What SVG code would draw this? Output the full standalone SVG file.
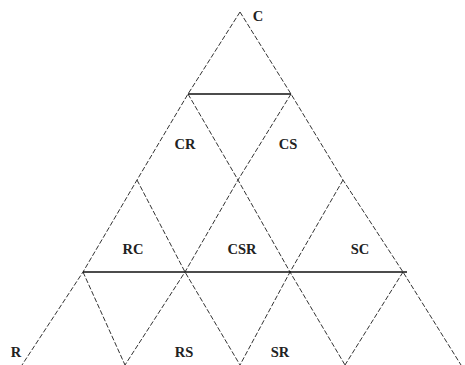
<svg xmlns="http://www.w3.org/2000/svg" width="465" height="365" viewBox="0 0 465 365">
<style>
.d{fill:none;stroke:#333;stroke-width:1;stroke-dasharray:5 2}
.h{fill:none;stroke:#111;stroke-width:1.3}
text{font-family:"Liberation Serif","Times New Roman",serif;font-weight:bold;font-size:14.5px;fill:#222;text-anchor:middle}
</style>
<rect width="465" height="365" fill="#fff"/>
<g id="connectors">
<polyline class="d" points="240,12 188,94 137,180 83,272 22,365"/>
<polyline class="d" points="240,12 291,94 343,180 403,272 461,365"/>
<polyline class="d" points="291,94 238,180 185,272 125,365"/>
<polyline class="d" points="343,180 290,272 240,365"/>
<polyline class="d" points="403,272 345,365"/>
<polyline class="d" points="188,94 238,180 290,272 345,365"/>
<polyline class="d" points="137,180 185,272 240,365"/>
<polyline class="d" points="83,272 125,365"/>
<line class="h" x1="188" y1="94" x2="291" y2="94"/>
<line class="h" x1="83" y1="272" x2="407" y2="272"/>
</g>
<g id="C"><text x="258" y="21">C</text></g>
<g id="CR"><text x="185" y="149">CR</text></g>
<g id="CS"><text x="288" y="149">CS</text></g>
<g id="RC"><text x="133" y="254">RC</text></g>
<g id="CSR"><text x="242" y="254">CSR</text></g>
<g id="SC"><text x="360" y="254">SC</text></g>
<g id="R"><text x="16" y="357">R</text></g>
<g id="RS"><text x="184" y="357">RS</text></g>
<g id="SR"><text x="280" y="357">SR</text></g>
</svg>
